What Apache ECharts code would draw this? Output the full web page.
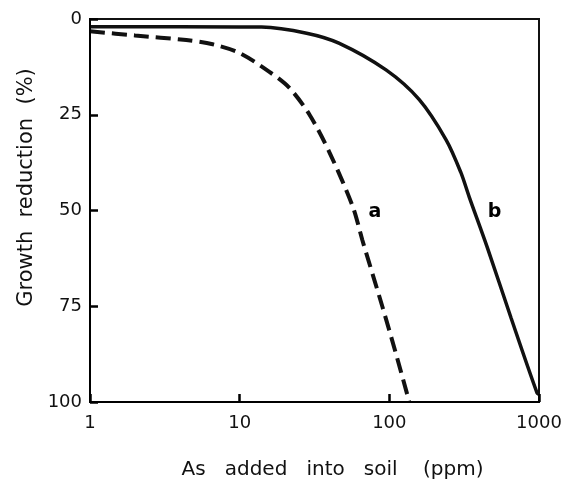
<!DOCTYPE html>
<html>
<head>
<meta charset="utf-8">
<script src="https://cdn.jsdelivr.net/npm/echarts@6/dist/echarts.min.js"></script>
<style>
  html, body { margin: 0; padding: 0; background: #fff; }
  #chart { width: 565px; height: 486px; }
</style>
</head>
<body>
<div id="chart"></div>
<script>
// curve a (dashed)
const doseA = [1, 2, 4.4, 6.6, 10, 15.8, 21.5, 29.3, 40, 57, 66, 90, 110, 136];
const reductionA = [3.2, 4.3, 5.5, 6.6, 8.9, 13.8, 18, 25, 35, 49, 57.7, 75.2, 87, 100];

// curve b (solid)
const doseB = [1, 4, 14, 28, 46, 95, 158, 240, 300, 342, 450, 650, 970, 1000];
const reductionB = [2.0, 2.0, 2.1, 3.7, 6.3, 13.3, 21, 31.6, 40, 46.5, 59.5, 78, 97.6, 98];

// curve labels
const curveNames = ['a', 'b'];
const labelDose = [80, 505];
const labelReduction = [50.4, 50.4];

const yTicks = [0, 25, 50, 75, 100];

const font = 'DejaVu Sans';

document.addEventListener('DOMContentLoaded', () => {
    const chart = echarts.init(document.getElementById('chart'));

    const pairs = (xs, ys) => xs.map((x, i) => [x, ys[i]]);

    const option = {
        animation: false,
        backgroundColor: '#fff',
        grid: {
            left: 90, right: 26, top: 19, bottom: 84,
            show: true, borderColor: '#111', borderWidth: 2
        },
        xAxis: {
            type: 'log',
            logBase: 10,
            min: 1,
            max: 1000,
            position: 'bottom',
            z: 10,
            name: 'As   added   into   soil    (ppm)',
            nameLocation: 'middle',
            nameGap: 58,
            nameTextStyle: { fontFamily: font, fontSize: 20, color: '#111', padding: [0, 0, 0, 36] },
            axisLine: { show: true, onZero: false, lineStyle: { color: '#000', width: 2 } },
            axisTick: { show: true, inside: true, length: 8, lineStyle: { color: '#000', width: 2.5 } },
            axisLabel: {
                fontFamily: font, fontSize: 18, color: '#111', margin: 12,
                formatter: v => String(v)
            },
            minorTick: { show: false },
            splitLine: { show: false }
        },
        yAxis: {
            type: 'value',
            inverse: true,
            min: 0,
            max: 100,
            interval: 25,
            position: 'left',
            z: 10,
            name: 'Growth  reduction  (%)',
            nameLocation: 'middle',
            nameGap: 52,
            nameTextStyle: { fontFamily: font, fontSize: 21, color: '#111', padding: [0, 0, 0, 46] },
            axisLine: { show: true, onZero: false, lineStyle: { color: '#000', width: 2 } },
            axisTick: { show: true, inside: true, length: 8, lineStyle: { color: '#000', width: 2.5 } },
            axisLabel: {
                fontFamily: font, fontSize: 18, color: '#111', margin: 8,
                formatter: v => yTicks.includes(v) ? String(v) : ''
            },
            splitLine: { show: false }
        },
        series: [
            {
                name: 'a',
                type: 'line',
                data: pairs(doseA, reductionA),
                smooth: 0.3,
                showSymbol: false,
                lineStyle: { color: '#111', width: 4, type: [15, 7] }
            },
            {
                name: 'b',
                type: 'line',
                data: pairs(doseB, reductionB),
                smooth: 0.3,
                showSymbol: false,
                lineStyle: { color: '#111', width: 3.5 }
            },
            {
                type: 'scatter',
                symbolSize: 0,
                itemStyle: { opacity: 1 },
                data: curveNames.map((n, i) => ({ value: [labelDose[i], labelReduction[i]], name: n })),
                label: {
                    show: true,
                    position: 'inside',
                    formatter: p => p.name,
                    fontFamily: font,
                    fontSize: 19,
                    fontWeight: 'bold',
                    color: '#000',
                    opacity: 1,
                    textBorderWidth: 0
                }
            }
        ]
    };

    chart.setOption(option);
});
</script>
</body>
</html>
